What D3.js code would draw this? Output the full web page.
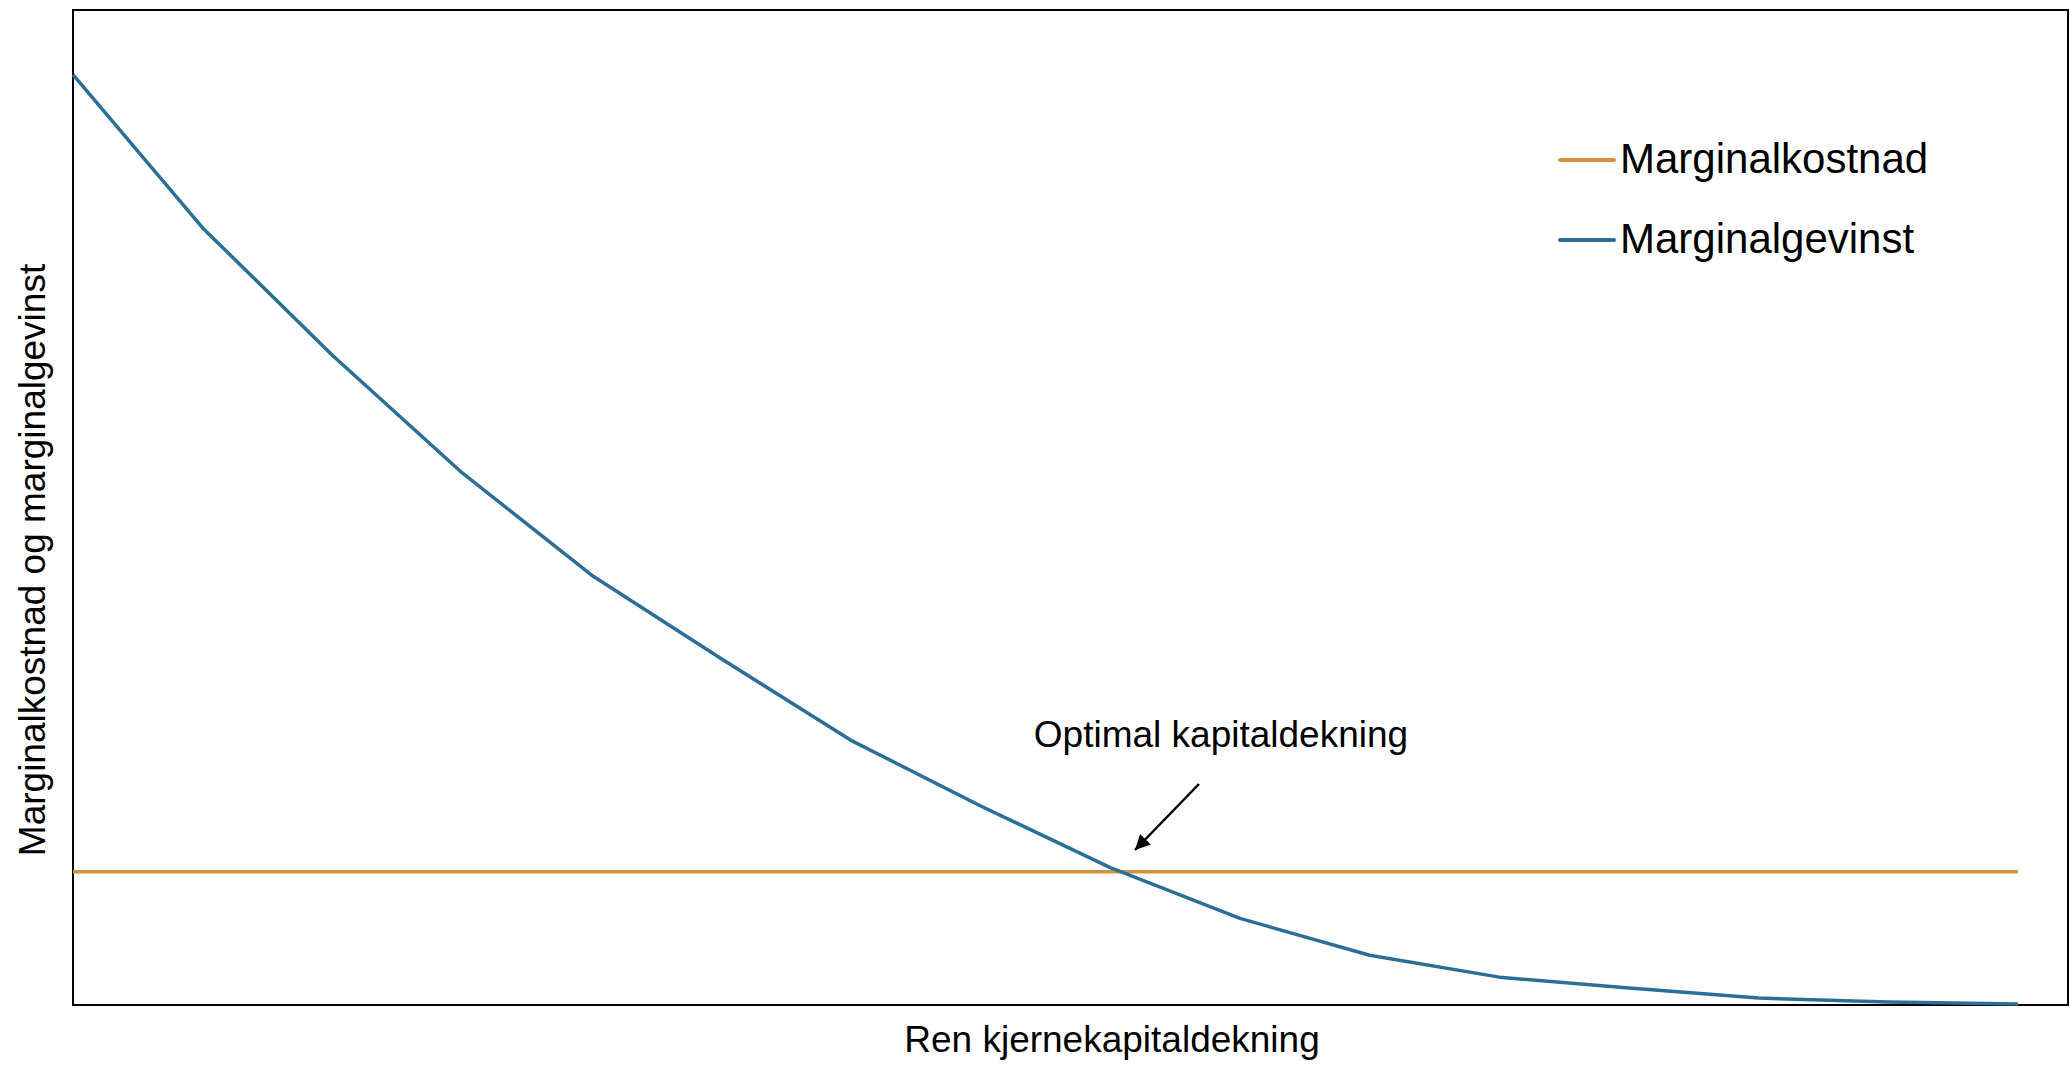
<!DOCTYPE html>
<html>
<head>
<meta charset="utf-8">
<script src="https://cdn.jsdelivr.net/npm/d3@7"></script>
<style>
  html, body { margin: 0; padding: 0; background: #fff; }
  svg text { font-family: "Liberation Sans", Arial, sans-serif; fill: #000; }
</style>
</head>
<body>
<svg id="chart"></svg>
<script>
// chart data (arbitrary units)
const steps = d3.range(16);                // x positions 0..15
const gainValues = [93.5, 78.1, 65.3, 53.5, 43.2, 34.8, 26.6, 20.0, 13.8, 8.7, 5.0, 2.8, 1.7, 0.7, 0.3, 0.1];
const costValue = 13.4;                    // flat marginal cost
const seriesNames = ['Marginalkostnad', 'Marginalgevinst'];
const seriesColors = ['#d4913f', '#2b6f98'];
const xLabel = 'Ren kjernekapitaldekning';
const yLabel = 'Marginalkostnad og marginalgevinst';
const annotation = 'Optimal kapitaldekning';

const W = 2070, H = 1068;
const frame = { left: 73, top: 10, right: 2068, bottom: 1005 };

const svg = d3.select('#chart')
    .attr('width', W)
    .attr('height', H);

const x = d3.scaleLinear()
    .domain([0, 15])
    .range([frame.left, 2018]);

const y = d3.scaleLinear()
    .domain([0, 100])
    .range([frame.bottom, frame.top]);

// plot frame
svg.append('rect')
    .attr('x', frame.left)
    .attr('y', frame.top)
    .attr('width', frame.right - frame.left)
    .attr('height', frame.bottom - frame.top)
    .attr('fill', 'none')
    .attr('stroke', '#000')
    .attr('stroke-width', 2);

const line = d3.line()
    .x(d => x(d[0]))
    .y(d => y(d[1]));

// marginal cost (flat)
svg.append('path')
    .datum([[0, costValue], [15, costValue]])
    .attr('d', line)
    .attr('fill', 'none')
    .attr('stroke', seriesColors[0])
    .attr('stroke-width', 3.5);

// marginal gain
svg.append('path')
    .datum(steps.map((s, i) => [s, gainValues[i]]))
    .attr('d', line)
    .attr('fill', 'none')
    .attr('stroke', seriesColors[1])
    .attr('stroke-width', 3.5)
    .attr('stroke-linejoin', 'round');

// legend
const legend = svg.append('g').attr('transform', 'translate(1560,160)');
seriesNames.forEach((name, i) => {
    const g = legend.append('g').attr('transform', `translate(0,${i * 80})`);
    g.append('line')
        .attr('x1', 0).attr('x2', 54)
        .attr('y1', 0).attr('y2', 0)
        .attr('stroke', seriesColors[i])
        .attr('stroke-width', 4)
        .attr('stroke-linecap', 'round');
    g.append('text')
        .attr('x', 60)
        .attr('y', 13)
        .attr('font-size', '42px')
        .text(name);
});

// annotation + arrow
const defs = svg.append('defs');
defs.append('marker')
    .attr('id', 'arrowhead')
    .attr('viewBox', '0 0 10 10')
    .attr('refX', 10)
    .attr('refY', 5)
    .attr('markerWidth', 6)
    .attr('markerHeight', 6)
    .attr('markerUnits', 'strokeWidth')
    .attr('orient', 'auto')
    .append('path')
    .attr('d', 'M0,0 L10,5 L0,10 Z')
    .attr('fill', '#000');

svg.append('text')
    .attr('x', 1221)
    .attr('y', 747)
    .attr('text-anchor', 'middle')
    .attr('font-size', '37px')
    .text(annotation);

svg.append('line')
    .attr('x1', 1199).attr('y1', 784)
    .attr('x2', 1135).attr('y2', 850)
    .attr('stroke', '#000')
    .attr('stroke-width', 2.5)
    .attr('marker-end', 'url(#arrowhead)');

// axis titles
svg.append('text')
    .attr('x', 1112)
    .attr('y', 1052)
    .attr('text-anchor', 'middle')
    .attr('font-size', '37px')
    .text(xLabel);

svg.append('text')
    .attr('transform', 'translate(45,560) rotate(-90)')
    .attr('text-anchor', 'middle')
    .attr('font-size', '37px')
    .text(yLabel);
</script>
</body>
</html>
